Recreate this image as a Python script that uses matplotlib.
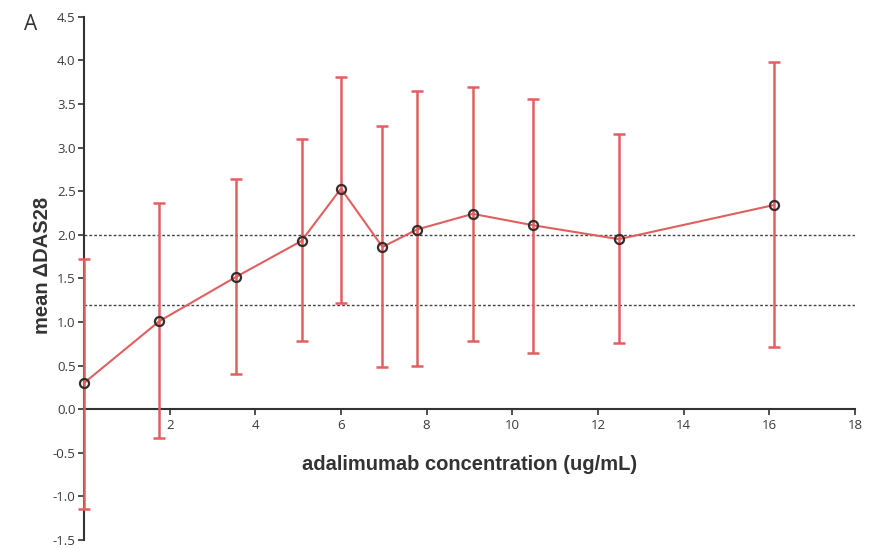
import matplotlib
matplotlib.use('Agg')
import matplotlib.pyplot as plt

# data
conc = [0.0, 1.76, 3.56, 5.08, 6.0, 6.97, 7.77, 9.08, 10.48, 12.49, 16.1]
mean_das = [0.30, 1.01, 1.52, 1.93, 2.53, 1.86, 2.06, 2.24, 2.11, 1.95, 2.34]
err_top = [1.72, 2.37, 2.64, 3.10, 3.81, 3.25, 3.65, 3.70, 3.56, 3.16, 3.98]
err_bottom = [-1.14, -0.33, 0.40, 0.78, 1.22, 0.48, 0.49, 0.78, 0.64, 0.76, 0.71]
ref_lines = [2.0, 1.2]
x_ticks = [2, 4, 6, 8, 10, 12, 14, 16, 18]
y_ticks = [-1.5, -1.0, -0.5, 0.0, 0.5, 1.0, 1.5, 2.0, 2.5, 3.0, 3.5, 4.0, 4.5]

red = '#e06060'

fig = plt.figure(figsize=(8.75, 5.49), dpi=100)
ax = fig.add_axes([0.096, 0.0164, 0.881, 0.953])

lower = [m - b for m, b in zip(mean_das, err_bottom)]
upper = [t - m for m, t in zip(mean_das, err_top)]

for y in ref_lines:
    ax.axhline(y, color='#444444', linestyle=(0, (2, 1.5)), linewidth=1.0, zorder=1)

ax.errorbar(conc, mean_das, yerr=[lower, upper], fmt='none', ecolor=red,
            elinewidth=1.8, capsize=4, capthick=1.8, zorder=3, clip_on=False)
ax.plot(conc, mean_das, color=red, linewidth=1.5, zorder=3, clip_on=False)
ax.plot(conc, mean_das, linestyle='none', marker='o', markersize=6.5,
        markerfacecolor='none', markeredgecolor='#3a2a2a', markeredgewidth=1.6,
        zorder=4, clip_on=False)

ax.set_xlim(0, 18)
ax.set_ylim(-1.5, 4.5)
ax.set_xticks(x_ticks)
ax.set_yticks(y_ticks)
ax.set_yticklabels([f'{v:.1f}' for v in y_ticks])

ax.spines['top'].set_visible(False)
ax.spines['right'].set_visible(False)
ax.spines['bottom'].set_position(('data', 0))
for s in ['left', 'bottom']:
    ax.spines[s].set_color('#333333')
    ax.spines[s].set_linewidth(1.5)
    ax.spines[s].set_zorder(2)

ax.tick_params(axis='both', direction='out', length=4, width=1.2,
               colors='#333333', labelsize=9.5, labelcolor='#3a3a3a')
ax.tick_params(axis='y', pad=2)
ax.tick_params(axis='x', pad=3)
for lab in ax.get_xticklabels() + ax.get_yticklabels():
    lab.set_family('Open Sans')

fig.text(470 / 875, 1 - 465 / 549, 'adalimumab concentration (ug/mL)',
         ha='center', va='center', fontsize=14.5, fontweight='bold',
         family='Liberation Sans', color='#333333')
fig.text(42 / 875, 1 - 265 / 549, 'mean \u0394DAS28', ha='center', va='center',
         rotation=90, fontsize=14.5, fontweight='bold',
         family='Liberation Sans', color='#333333')
fig.text(31 / 875, 1 - 24 / 549, 'A', ha='center', va='center', fontsize=15,
         family='Open Sans', color='#333333')

fig.savefig('out.png', dpi=100)
